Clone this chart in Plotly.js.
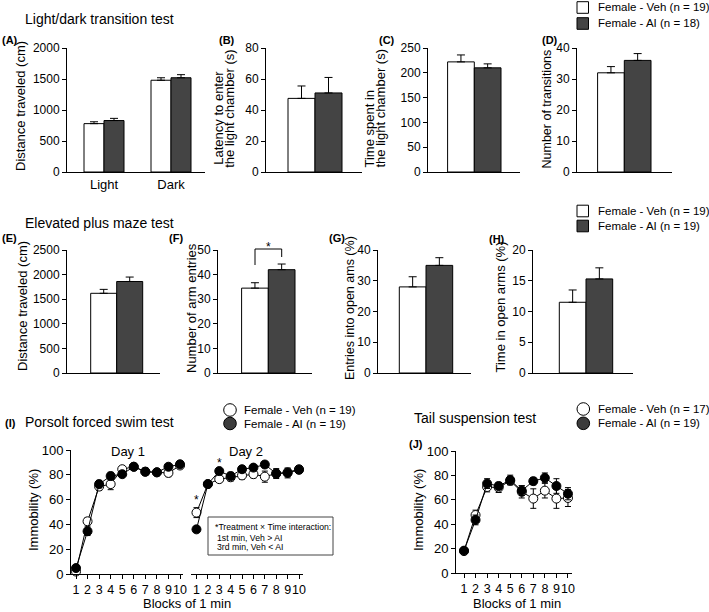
<!DOCTYPE html>
<html><head><meta charset="utf-8">
<script src="https://cdn.plot.ly/plotly-3.0.1.min.js"></script>
<style>html,body{margin:0;padding:0;background:#fff}#chart{width:709px;height:612px}</style>
</head><body><div id="chart"></div>
<script>
// ---------------- DATA ----------------
const groups = ['Female - Veh', 'Female - AI'];
// Light/dark transition test
const ldCategories = ['Light', 'Dark'];
const ldDistVeh = [780, 1480];
const ldDistVehErr = [30, 40];
const ldDistAI = [830, 1520];
const ldDistAIErr = [35, 50];
const ldLatency = [47.5, 51];        // [Veh, AI]
const ldLatencyErr = [8, 10];
const ldTimeLight = [222, 210];
const ldTimeLightErr = [14, 8];
const ldTransitions = [32, 36];
const ldTransitionsErr = [2, 2.2];
// Elevated plus maze test
const epmDist = [1620, 1860];
const epmDistErr = [80, 90];
const epmArmEntries = [34.5, 42];
const epmArmEntriesErr = [2.2, 2.3];
const epmOpenEntries = [28, 35];
const epmOpenEntriesErr = [3.3, 2.5];
const epmOpenTime = [11.5, 15.3];
const epmOpenTimeErr = [2, 1.8];
// Porsolt forced swim test
const blocks = [1, 2, 3, 4, 5, 6, 7, 8, 9, 10];
const fstDay1Veh = [2, 42.5, 70.5, 72.5, 84.5, 86.5, 82.5, 82, 81.5, 87.5];
const fstDay1VehErr = [1, 3, 3, 4.5, 1.5, 2, 2, 2, 3, 2];
const fstDay1AI = [4.8, 34.5, 72.5, 79, 80.5, 86.5, 82.5, 82, 86.5, 88.5];
const fstDay1AIErr = [1.5, 3.5, 3, 3, 2, 2, 3, 2.5, 2, 2];
const fstDay2Veh = [49.5, 72.5, 76.5, 78, 79.5, 80.5, 78.5, 81, 82, 84.5];
const fstDay2VehErr = [4, 2, 2.5, 3, 3, 3, 4.5, 3, 3, 3];
const fstDay2AI = [36, 72.5, 83, 79, 84.5, 85.8, 88.3, 81, 81.5, 84];
const fstDay2AIErr = [2.5, 2, 2, 3, 2, 2, 2, 4, 4, 3];
// Tail suspension test
const tstVeh = [18, 47.5, 70.5, 70, 75.5, 66.5, 61, 67.5, 61, 61.5];
const tstVehErr = [2, 4, 4, 4, 3, 5, 8, 6, 8, 7];
const tstAI = [18.3, 43.5, 73.3, 71.3, 76.2, 67.5, 75.3, 78, 71.3, 65];
const tstAIErr = [2, 4, 4, 3, 4, 4, 3, 4, 6, 5];
// legend labels
const legendLD = ['Female - Veh (n = 19)', 'Female - AI (n = 18)'];
const legendEPM = ['Female - Veh (n = 19)', 'Female - AI (n = 19)'];
const legendFST = ['Female - Veh (n = 19)', 'Female - AI (n = 19)'];
const legendTST = ['Female - Veh (n = 17)', 'Female - AI (n = 19)'];

// ---------------- LAYOUT HELPERS ----------------
const W = 709, H = 612;
const FONT = 'Liberation Sans, Arial, Helvetica, sans-serif';
const AI_COLOR = '#444444';
const px = v => v / W;
const py = v => 1 - v / H;
const xn = i => 'xaxis' + (i === 1 ? '' : i);
const yn = i => 'yaxis' + (i === 1 ? '' : i);
const xr = i => 'x' + (i === 1 ? '' : i);
const yr = i => 'y' + (i === 1 ? '' : i);

const layout = {
  width: W, height: H, autosize: false,
  margin: {l: 0, r: 0, t: 0, b: 0},
  paper_bgcolor: '#fff', plot_bgcolor: 'rgba(0,0,0,0)',
  showlegend: false, barmode: 'overlay',
  font: {family: FONT, size: 12, color: '#000'},
  annotations: [], shapes: []
};
const traces = [];

const yBase = {showline: true, linecolor: '#000', linewidth: 1, ticks: 'outside', ticklen: 4,
  tickwidth: 1, tickcolor: '#000', showgrid: false, zeroline: false, tick0: 0,
  tickfont: {size: 12, color: '#000', family: FONT}, fixedrange: true};
const xBase = {showline: true, linecolor: '#000', linewidth: 1, ticks: '', showgrid: false,
  zeroline: false, showticklabels: false, fixedrange: true};

function barTrace(x, y, err, color, i, offset, width) {
  return {type: 'bar', x: x, y: y, xaxis: xr(i), yaxis: yr(i), offset: offset, width: width,
    marker: {color: color, line: {color: '#000', width: 1}},
    error_y: {type: 'data', symmetric: false, array: err, arrayminus: err.map(() => 0),
      color: '#000', thickness: 1, width: 4},
    hoverinfo: 'none'};
}

// bar panels: single category with Veh / AI side by side
function singleBarPanel(i, vals, errs, xPix, yPix, center, bw, yRange, dt) {
  layout[xn(i)] = Object.assign({}, xBase, {domain: [px(xPix[0]), px(xPix[1])],
    range: [xPix[0] - center, xPix[1] - center], anchor: yr(i)});
  layout[yn(i)] = Object.assign({}, yBase, {domain: [py(yPix[1]), py(yPix[0])],
    range: yRange, dtick: dt, anchor: xr(i)});
  traces.push(barTrace([0], [vals[0]], [errs[0]], '#fff', i, -bw, bw));
  traces.push(barTrace([0], [vals[1]], [errs[1]], AI_COLOR, i, 0, bw));
}

// Panel A (two categories)
{
  const unit = 67, c0 = 104, L = 67, R = 205, bw = 20 / unit;
  layout.xaxis = Object.assign({}, xBase, {type: 'category', domain: [px(L), px(R)],
    range: [(L - c0) / unit, (R - c0) / unit], anchor: 'y', showticklabels: true,
    tickfont: {size: 13, color: '#000', family: FONT}});
  layout.yaxis = Object.assign({}, yBase, {domain: [py(172), py(48)], range: [0, 2000], dtick: 500, anchor: 'x'});
  traces.push(barTrace(ldCategories, ldDistVeh, ldDistVehErr, '#fff', 1, -bw, bw));
  traces.push(barTrace(ldCategories, ldDistAI, ldDistAIErr, AI_COLOR, 1, 0, bw));
}
singleBarPanel(2, ldLatency, ldLatencyErr, [266, 362], [48, 172], 315, 27, [0, 80], 20);
singleBarPanel(3, ldTimeLight, ldTimeLightErr, [428, 520], [48, 172], 474.3, 26.7, [0, 250], 50);
singleBarPanel(4, ldTransitions, ldTransitionsErr, [577, 672], [48, 172], 624.3, 26.7, [0, 40], 10);
singleBarPanel(5, epmDist, epmDistErr, [67, 160], [250, 373], 116.7, 26, [0, 2500], 500);
singleBarPanel(6, epmArmEntries, epmArmEntriesErr, [218, 312], [250, 373], 268.3, 26.7, [0, 50], 10);
singleBarPanel(7, epmOpenEntries, epmOpenEntriesErr, [378, 471], [250, 373], 426, 26.7, [0, 40], 10);
singleBarPanel(8, epmOpenTime, epmOpenTimeErr, [533, 633], [250, 373], 586, 26.7, [0, 20], 5);

// line panels
function lineTrace(x, y, err, fill, xa, ya) {
  return {type: 'scatter', mode: 'lines+markers', x: x, y: y, xaxis: xa, yaxis: ya,
    line: {color: '#000', width: 1},
    marker: {size: 9, color: fill, line: {color: '#000', width: 1}},
    error_y: {type: 'data', array: err, color: '#000', thickness: 1, width: 3},
    cliponaxis: false, hoverinfo: 'none'};
}
const xLine = {showline: true, linecolor: '#000', linewidth: 1, ticks: 'outside', ticklen: 4,
  tickwidth: 1, tickcolor: '#000', showgrid: false, zeroline: false, tickvals: blocks,
  ticktext: blocks.map(String), tickangle: 0, tickfont: {size: 12.5, color: '#000', family: FONT}, fixedrange: true};
const yLine = Object.assign({}, yBase, {range: [0, 100], dtick: 20, tickfont: {size: 13, color: '#000', family: FONT}});

layout.xaxis9 = Object.assign({}, xLine, {domain: [px(71), px(183)], range: [0.567, 10.26], anchor: 'y9'});
layout.yaxis9 = Object.assign({}, yLine, {domain: [py(574), py(450)], anchor: 'x9'});
layout.xaxis10 = Object.assign({}, xLine, {domain: [px(191), px(303)], range: [0.52, 10.35], anchor: 'y9'});
layout.xaxis11 = Object.assign({}, xLine, {domain: [px(456), px(572)], range: [0.307, 10.35], anchor: 'y11'});
layout.yaxis11 = Object.assign({}, yLine, {domain: [py(573), py(451)], anchor: 'x11'});

traces.push(lineTrace(blocks, fstDay1Veh, fstDay1VehErr, '#fff', 'x9', 'y9'));
traces.push(lineTrace(blocks, fstDay1AI, fstDay1AIErr, '#000', 'x9', 'y9'));
traces.push(lineTrace(blocks, fstDay2Veh, fstDay2VehErr, '#fff', 'x10', 'y9'));
traces.push(lineTrace(blocks, fstDay2AI, fstDay2AIErr, '#000', 'x10', 'y9'));
traces.push(lineTrace(blocks, tstVeh, tstVehErr, '#fff', 'x11', 'y11'));
traces.push(lineTrace(blocks, tstAI, tstAIErr, '#000', 'x11', 'y11'));

// ---------------- TEXT ----------------
function txt(text, x, y, opts) {
  layout.annotations.push(Object.assign({text: text, xref: 'paper', yref: 'paper', x: px(x), y: py(y),
    xanchor: 'left', yanchor: 'middle', showarrow: false, font: {size: 12, color: '#000', family: FONT}}, opts || {}));
}
function ytitle(text, x, yBottom, size) {
  txt(text, x, yBottom, {textangle: -90, xanchor: 'center', yanchor: 'bottom', font: {size: size || 13, color: '#000', family: FONT}});
}
const T14 = {font: {size: 14, color: '#000', family: FONT}};
txt('Light/dark transition test', 23, 19, T14);
txt('Elevated plus maze test', 23, 222.5, T14);
txt('Porsolt forced swim test', 23, 421.7, T14);
txt('Tail suspension test', 411.7, 417.5, T14);

const B11 = {font: {size: 11, color: '#000', family: FONT}};
[['(A)', 0, 40], ['(B)', 217, 40], ['(C)', 377, 40], ['(D)', 540, 40],
 ['(E)', 0, 238], ['(F)', 167, 238], ['(G)', 327, 238], ['(H)', 487, 239],
 ['(I)', 3, 423], ['(J)', 407, 444]].forEach(l => txt('<b>' + l[0] + '</b>', l[1], l[2], B11));

// y-axis titles
ytitle('Distance traveled (cm)', 20, 173);
ytitle('Latency to enter', 218.7, 167);
ytitle('the light chamber (s)', 229.3, 170);
ytitle('Time spent in', 368.5, 170);
ytitle('the light chamber (s)', 380, 170);
ytitle('Number of transitions', 546, 171, 12.5);
ytitle('Distance traveled (cm)', 22, 373);
ytitle('Number of arm entries', 191, 375);
ytitle('Entries into open ams (%)', 350, 382, 12.5);
ytitle('Time in open arms (%)', 500, 375);
ytitle('Immobility (%)', 33, 553);
ytitle('Immobility (%)', 418, 553);

// x-axis titles / headers
const C13 = {xanchor: 'center', font: {size: 13, color: '#000', family: FONT}};
txt('Blocks of 1 min', 187, 603.5, C13);
txt('Blocks of 1 min', 517, 603, C13);
txt('Day 1', 128, 451, C13);
txt('Day 2', 246, 451, C13);

// significance markers
const STAR = {xanchor: 'center', font: {size: 12, color: '#000', family: FONT}};
txt('*', 268.3, 247, STAR);
layout.shapes.push({type: 'path', xref: 'paper', yref: 'paper',
  path: 'M ' + px(255) + ',' + py(265) + ' L ' + px(255) + ',' + py(249) + ' L ' + px(281.7) + ',' + py(249) + ' L ' + px(281.7) + ',' + py(257),
  line: {color: '#000', width: 1}});
layout.annotations.push({text: '*', xref: 'x10', yref: 'y9', x: 1, y: 59.5, showarrow: false,
  xanchor: 'center', yanchor: 'middle', font: {size: 12, color: '#000', family: FONT}});
layout.annotations.push({text: '*', xref: 'x10', yref: 'y9', x: 3, y: 89.5, showarrow: false,
  xanchor: 'center', yanchor: 'middle', font: {size: 12, color: '#000', family: FONT}});

// interaction note box
layout.shapes.push({type: 'rect', xref: 'paper', yref: 'paper', x0: px(208), x1: px(333), y0: py(555), y1: py(517),
  line: {color: '#444', width: 1}, fillcolor: '#fff'});
const S8 = {font: {size: 8.7, color: '#000', family: FONT}};
txt('*Treatment × Time interaction:', 212.5, 526.7, S8);
txt('1st min, Veh &gt; AI', 215, 537.7, S8);
txt('3rd min, Veh &lt; AI', 215, 547.3, S8);

// legends
const L12 = {font: {size: 11.5, color: '#000', family: FONT}};
function boxLegend(labels, y1, y2) {
  [[y1, '#fff'], [y2, AI_COLOR]].forEach((r, k) => {
    layout.shapes.push({type: 'rect', xref: 'paper', yref: 'paper', x0: px(577), x1: px(588.5),
      y0: py(r[0] + 5.8), y1: py(r[0] - 5.8), line: {color: '#000', width: 1}, fillcolor: r[1]});
    txt(labels[k], 596, r[0], L12);
  });
}
boxLegend(legendLD, 7.5, 23.5);
boxLegend(legendEPM, 211, 226);
function circleLegend(labels, cx, y1, y2, tx) {
  [[y1, '#fff'], [y2, '#3c3c3c']].forEach((r, k) => {
    layout.shapes.push({type: 'circle', xref: 'paper', yref: 'paper', x0: px(cx - 6.3), x1: px(cx + 6.3),
      y0: py(r[0] + 6.3), y1: py(r[0] - 6.3), line: {color: '#000', width: 1}, fillcolor: r[1]});
    txt(labels[k], tx, r[0], L12);
  });
}
circleLegend(legendFST, 230, 410, 423.5, 241.7);
circleLegend(legendTST, 583.3, 409, 423.3, 595.7);

Plotly.newPlot('chart', traces, layout, {staticPlot: true, displayModeBar: false});
</script>
</body></html>
